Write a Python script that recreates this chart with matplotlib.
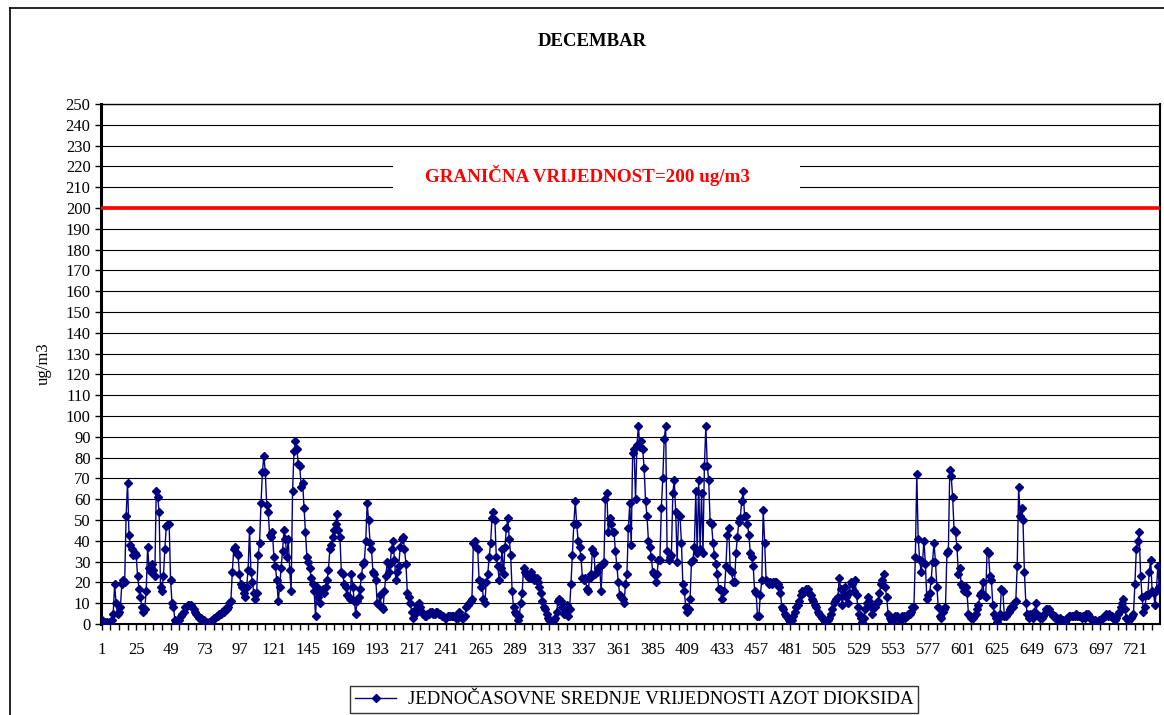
import numpy as np
import matplotlib.pyplot as plt
from matplotlib.lines import Line2D
from matplotlib.patches import Rectangle

# hourly NO2 means for December (ug/m3)
no2 = [
    2, 1, 1, 0, 1, 0, 1, 2, 5, 19, 10, 5, 6, 8, 19, 21, 20, 52, 68, 43, 38, 36, 33, 34,
    33, 23, 17, 13, 8, 6, 7, 16, 37, 27, 25, 29, 26, 23, 64, 61, 54, 18, 16, 23, 36, 47, 48, 48,
    21, 10, 8, 2, 1, 0, 2, 4, 5, 6, 8, 8, 9,
    9, 9, 8, 7, 6, 5, 4, 3, 3, 2, 2, 1, 1, 0, 1, 1, 2, 3, 3, 4, 4, 5, 5, 6, 6, 7, 7, 8, 10, 11,
    25, 36, 37, 34, 33, 24, 19, 18, 15, 13, 18, 26, 45, 25, 20, 15, 12, 15, 33, 39, 58, 73, 81, 73,
    57, 54, 43, 42, 44, 32, 28,
    21, 11, 18, 27, 35, 45, 41, 32, 41, 26, 16, 64, 83, 88, 84, 77, 76, 66, 68, 56, 44, 32, 30, 27,
    22, 19, 16, 4, 18, 13, 10, 16, 17, 15, 18, 21, 26, 36, 38, 42, 45, 48, 53, 45, 42, 25, 24, 19,
    18, 14, 13, 12, 24, 18, 11, 5, 11, 13, 17, 23, 29,
    30, 40, 58, 50, 39, 36, 25, 24, 21, 10, 9, 14, 8, 7, 16, 23, 30, 25, 29, 36, 40, 31, 21, 25,
    28, 37, 41, 42, 36, 29, 15, 13, 10, 6, 3, 5, 7, 9, 10, 8, 6, 5,
    4, 4, 5, 5, 6, 6, 5, 5, 6, 6, 5, 5, 4, 4, 3, 3, 4, 4, 4, 4,
    4, 4, 3, 3, 6, 4, 3, 3, 4, 8, 9, 10, 11, 12,
    39, 40, 37, 36, 21, 18, 20, 12, 10, 20, 24, 32, 39, 51, 54, 50, 32, 28, 21, 27, 36, 24, 37, 46,
    51, 41, 33, 16, 8, 6, 5, 2, 4, 10, 15, 27, 25, 24, 23, 22, 25, 23, 21, 22,
    22, 20, 18, 15, 11, 8, 7, 5, 3, 2, 1, 1, 2, 3, 6, 11, 12, 11, 8, 5, 7, 9, 4, 7,
    19, 33, 48, 59, 48, 40, 37, 32, 22, 21, 22, 17, 16, 22, 24, 36, 34, 24, 25, 27, 28, 16, 29, 30,
    60, 63, 44, 51, 48, 44, 44, 35, 28, 20, 14, 13, 12, 10,
    19, 24, 46, 58, 38, 82, 84, 60, 86, 95, 85, 88, 84, 75, 59, 52, 40, 37, 32, 25, 24, 20, 24, 31,
    31, 56, 70, 89, 95, 35, 31, 32, 33, 63, 69, 54, 30, 52, 52, 39, 19, 16, 8, 6, 7, 12, 30, 31,
    37, 64, 34, 69, 36, 63, 34, 76, 95, 76, 69, 49, 48, 39, 33,
    29, 24, 17, 17, 12, 16, 16, 28, 43, 46, 26, 25, 20, 20, 34, 42, 49, 51, 59, 64, 52, 52, 48, 43,
    34, 32, 28, 16, 15, 4, 4, 14, 21, 55, 39, 21, 20, 19, 20, 19, 20, 20, 20, 19, 18, 15, 8, 7,
    5, 4, 3, 2, 1, 2, 4, 6, 8, 9, 11, 14, 16,
    15, 16, 17, 17, 15, 14, 12, 11, 9, 8, 6, 5, 4, 3, 2, 1, 1, 2, 3, 5, 7, 10, 11, 12,
    13, 22, 17, 9, 14, 18, 13, 10, 15, 20, 19, 16, 21, 14, 8, 5, 3, 1, 3, 7, 10, 13, 11, 8,
    5, 8, 8, 10, 11, 15, 19, 21, 24, 18, 13, 5, 3, 2, 1,
    3, 4, 4, 3, 2, 2, 4, 4, 3, 4, 5, 5, 6, 8, 8, 32, 72, 41, 31, 25, 30, 40, 29, 12,
    14, 15, 21, 30, 39, 30, 18, 8, 4, 3, 6, 7, 8, 34, 35, 74, 71, 61, 45, 44, 37, 24, 27, 19,
    18, 16, 18, 15, 5, 4, 3, 3, 4, 5, 7, 9, 14,
    15, 20, 14, 13, 35, 34, 23, 21, 9, 5, 3, 1, 3, 5, 17, 16, 4, 4, 5, 6, 7, 8, 8, 10,
    11, 28, 66, 52, 56, 50, 25, 10, 5, 3, 5, 4, 3, 6, 10, 5, 4, 3, 3, 4, 5, 7, 7, 7,
    6, 5, 4, 4, 3, 2, 2, 3, 2, 2, 1, 2, 3, 4,
    4, 4, 4, 4, 5, 4, 4, 4, 3, 4, 3, 5, 5, 4, 3, 2, 2, 2, 0, 1, 2, 2, 3, 3,
    4, 5, 4, 5, 4, 4, 3, 2, 3, 5, 6, 8, 10, 12, 7, 3, 2, 2, 3, 4, 5, 19, 36, 40,
    44, 23, 13, 6, 8, 14, 14, 25, 31, 16, 15, 9, 16, 28, 18,
]

hours = np.arange(1, len(no2) + 1)
x_labels = np.arange(1, 722, 24)
y_ticks = np.arange(0, 251, 10)
limit = 200

title = 'DECEMBAR'
limit_text = 'GRANIČNA VRIJEDNOST=200 ug/m3'
series_name = 'JEDNOČASOVNE SREDNJE VRIJEDNOSTI AZOT DIOKSIDA'

plt.rcParams['font.family'] = ['Liberation Serif', 'DejaVu Serif']

W, H = 1164, 715
fig = plt.figure(figsize=(W / 100, H / 100), dpi=100)
ax = fig.add_axes([101 / W, 1 - 624 / H, (1160 - 101) / W, (624 - 104) / H])

# outer chart frame (only left and top edges are inside the picture)
fig.add_artist(Line2D([10 / W, 10 / W], [0, 1 - 8 / H], color='black', lw=1.2))
fig.add_artist(Line2D([10 / W, 1], [1 - 8 / H, 1 - 8 / H], color='black', lw=1.2))

ax.plot(hours, no2, color='#000080', lw=1.0, marker='D', markersize=4,
        markerfacecolor='#000080', markeredgecolor='#000080', zorder=4)
ax.axhline(limit, color='red', lw=2.6, zorder=5)

ax.set_xlim(0.5, len(no2) + 0.5)
ax.set_ylim(0, 250)
ax.set_yticks(y_ticks)
ax.set_xticks(x_labels)
ax.set_xticks(np.arange(1, len(no2) + 1, 6), minor=True)
ax.tick_params(axis='both', which='both', direction='out', length=4, width=1,
               labelsize=12, colors='black')
ax.tick_params(axis='x', pad=9)
ax.grid(axis='y', color='black', lw=0.8)
ax.set_axisbelow(True)

ax.spines['left'].set_linewidth(2.2)
ax.spines['bottom'].set_linewidth(1.5)
ax.spines['right'].set_linewidth(1.5)
ax.spines['top'].set_linewidth(1.0)

ax.set_ylabel('ug/m3', fontsize=12, labelpad=10)
fig.text(592 / W, 1 - 42 / H, title, ha='center', va='center',
         fontsize=13.5, fontweight='bold')

# white label box over the grid, with the limit text
x0 = (393 - 101) / (1160 - 101)
x1 = (800 - 101) / (1160 - 101)
ax.add_patch(Rectangle((x0, 209), x1 - x0, 13, transform=ax.get_yaxis_transform(),
                       facecolor='white', edgecolor='none', zorder=2))
ax.text((587 - 101) / (1160 - 101), 215.5, limit_text, ha='center', va='center',
        color='red', fontsize=13.7, fontweight='bold', zorder=6,
        transform=ax.get_yaxis_transform())

handle = Line2D([], [], color='#000080', lw=1.0, marker='D', markersize=4)
fig.legend([handle], [series_name], loc='upper center',
           bbox_to_anchor=(634 / W, 1 - 677 / H), frameon=True, fancybox=False,
           edgecolor='black', fontsize=13.5, handlelength=2.2, borderpad=0.25,
           handletextpad=0.6)

fig.savefig('out.png', dpi=100)
